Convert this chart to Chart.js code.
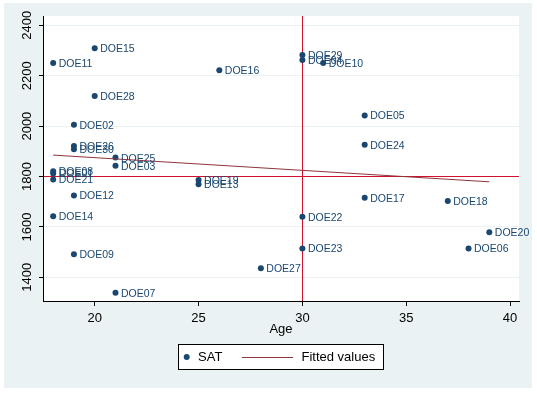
<!DOCTYPE html>
<html>
<head>
<meta charset="utf-8">
<script src="https://cdn.jsdelivr.net/npm/chart.js@4"></script>
<style>
    html, body { margin: 0; padding: 0; background: #fff; }
    #wrap { width: 537px; height: 393px; }
</style>
</head>
<body>
<div id="wrap"><canvas id="chart" width="537" height="393"></canvas></div>
<script>
// =========================================================
// Data
// =========================================================

const ids = [
    'DOE01', 'DOE02', 'DOE03', 'DOE04', 'DOE05', 'DOE06', 'DOE07', 'DOE08', 'DOE09', 'DOE10',
    'DOE11', 'DOE12', 'DOE13', 'DOE14', 'DOE15', 'DOE16', 'DOE17', 'DOE18', 'DOE19', 'DOE20',
    'DOE21', 'DOE22', 'DOE23', 'DOE24', 'DOE25', 'DOE26', 'DOE27', 'DOE28', 'DOE29', 'DOE30'
];
const age = [
    18, 19, 21, 30, 33, 38, 21, 18, 19, 31,
    18, 19, 25, 18, 20, 26, 33, 37, 25, 39,
    18, 30, 30, 33, 21, 19, 28, 20, 30, 19
];
const sat = [
    1812, 2005, 1843, 2262, 2042, 1514, 1339, 1821, 1492, 2250,
    2250, 1725, 1769, 1642, 2309, 2222, 1716, 1703, 1786, 1579,
    1788, 1640, 1514, 1926, 1875, 1921, 1436, 2120, 2282, 1908
];

// fitted line end points (min and max age)
const fitAge = [18, 39];
const fitSat = [1885, 1779];

const xTicks = [20, 25, 30, 35, 40];
const yTicks = [1400, 1600, 1800, 2000, 2200, 2400];

const refAge = 30;
const refSat = 1800;

const seriesNames = ['SAT', 'Fitted values'];
const xTitle = 'Age';

// =========================================================
// Styles
// =========================================================

const NAVY = '#1a476f';
const MAROON = '#90353b';
const RED = '#d0112f';
const BG = '#eaf2f3';
const FONT = '"Liberation Sans", Arial, sans-serif';

// =========================================================
// Plugins
// =========================================================

const backgroundPlugin = {
    id: 'background',
    beforeDraw(chart) {
        const { ctx, chartArea: a } = chart;
        ctx.save();
        ctx.fillStyle = '#fff';
        ctx.fillRect(0, 0, chart.width, chart.height);
        ctx.fillStyle = BG;
        ctx.fillRect(4, 3, 528, 385);
        ctx.fillStyle = '#fff';
        ctx.fillRect(a.left, a.top, a.right - a.left, a.bottom - a.top);
        ctx.restore();
    }
};

// xline(30) / yline(1800), under the markers
const refLinesPlugin = {
    id: 'refLines',
    beforeDatasetsDraw(chart) {
        const { ctx, chartArea: a, scales } = chart;
        const px = Math.round(scales.x.getPixelForValue(refAge));
        const py = Math.floor(scales.y.getPixelForValue(refSat));
        ctx.save();
        ctx.fillStyle = RED;
        ctx.fillRect(px, a.top, 1, a.bottom - a.top);
        ctx.fillRect(a.left + 1, py, a.right - a.left - 1, 1);
        ctx.restore();
    }
};

const pointLabelsPlugin = {
    id: 'pointLabels',
    afterDatasetsDraw(chart) {
        const { ctx } = chart;
        const meta = chart.getDatasetMeta(0);
        ctx.save();
        ctx.fillStyle = NAVY;
        ctx.font = '10.5px ' + FONT;
        ctx.textAlign = 'left';
        ctx.textBaseline = 'middle';
        meta.data.forEach((pt, i) => {
            ctx.fillText(ids[i], pt.x + 5.5, pt.y + 1);
        });
        ctx.restore();
    }
};

// y tick labels are rotated and centred on their ticks
const yLabelsPlugin = {
    id: 'yLabels',
    afterDraw(chart) {
        const { ctx, scales } = chart;
        ctx.save();
        ctx.fillStyle = '#000';
        ctx.font = '13px ' + FONT;
        ctx.textAlign = 'center';
        ctx.textBaseline = 'middle';
        yTicks.forEach(v => {
            ctx.save();
            ctx.translate(27, scales.y.getPixelForValue(v));
            ctx.rotate(-Math.PI / 2);
            ctx.fillText(String(v), 0, 0);
            ctx.restore();
        });
        ctx.restore();
    }
};

const legendBoxPlugin = {
    id: 'legendBox',
    afterDraw(chart) {
        const { ctx } = chart;
        const cy = 357;
        ctx.save();
        ctx.fillStyle = '#fff';
        ctx.fillRect(178.5, 344.5, 205, 25);
        ctx.strokeStyle = '#000';
        ctx.lineWidth = 1;
        ctx.strokeRect(178.5, 344.5, 205, 25);

        ctx.fillStyle = NAVY;
        ctx.beginPath();
        ctx.arc(186.7, cy, 3, 0, Math.PI * 2);
        ctx.fill();

        ctx.strokeStyle = MAROON;
        ctx.beginPath();
        ctx.moveTo(242, cy + 0.5);
        ctx.lineTo(293, cy + 0.5);
        ctx.stroke();

        ctx.fillStyle = '#000';
        ctx.font = '13px ' + FONT;
        ctx.textAlign = 'left';
        ctx.textBaseline = 'middle';
        ctx.fillText(seriesNames[0], 198, cy);
        ctx.fillText(seriesNames[1], 301.5, cy);
        ctx.restore();
    }
};

// =========================================================
// Chart
// =========================================================

const ctx = document.getElementById('chart');

new Chart(ctx, {
    type: 'scatter',
    data: {
        datasets: [
            {
                label: seriesNames[0],
                data: age.map((a, i) => ({ x: a, y: sat[i] })),
                backgroundColor: NAVY,
                borderWidth: 0,
                pointRadius: 3,
                order: 2
            },
            {
                type: 'line',
                label: seriesNames[1],
                data: fitAge.map((a, i) => ({ x: a, y: fitSat[i] })),
                borderColor: MAROON,
                borderWidth: 1,
                pointRadius: 0,
                fill: false,
                order: 1
            }
        ]
    },
    options: {
        responsive: false,
        animation: false,
        devicePixelRatio: 1,
        layout: { padding: { top: 16, right: 18, left: 0, bottom: 0 } },
        plugins: {
            legend: { display: false },
            tooltip: { enabled: false }
        },
        scales: {
            x: {
                type: 'linear',
                min: 17.51,
                max: 40.43,
                afterBuildTicks: s => { s.ticks = xTicks.map(v => ({ value: v })); },
                afterFit: s => { s.height = 92; },
                grid: { drawOnChartArea: false, color: '#000', tickColor: '#000', tickLength: 5 },
                border: { color: '#000', width: 1 },
                ticks: { color: '#000', font: { family: FONT, size: 13 }, padding: 5, maxRotation: 0 },
                title: {
                    display: true,
                    text: xTitle,
                    color: '#000',
                    font: { family: FONT, size: 13 },
                    padding: { top: 0, bottom: 56 }
                }
            },
            y: {
                type: 'linear',
                min: 1306,
                max: 2437,
                afterBuildTicks: s => { s.ticks = yTicks.map(v => ({ value: v })); },
                afterFit: s => { s.width = 43; },
                grid: { color: BG, tickColor: '#000', tickLength: 4 },
                border: { color: '#000', width: 1 },
                ticks: { display: false }
            }
        }
    },
    plugins: [backgroundPlugin, refLinesPlugin, pointLabelsPlugin, yLabelsPlugin, legendBoxPlugin]
});
</script>
</body>
</html>
